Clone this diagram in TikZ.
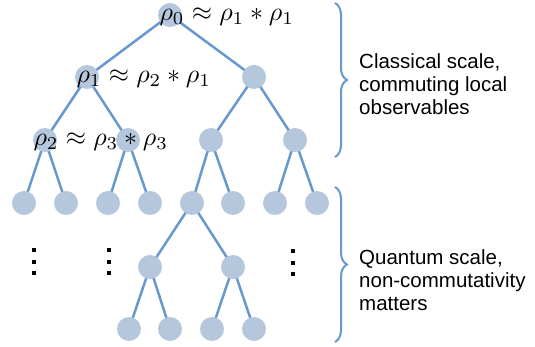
\documentclass[tikz,border=0pt]{standalone}
\usepackage{fontspec}
\setsansfont{Liberation Sans}
\usetikzlibrary{decorations.pathreplacing,backgrounds}
\definecolor{edgeblue}{RGB}{104,152,205}
\definecolor{nodeblue}{RGB}{180,199,221}
\tikzset{
  tn/.style={circle,fill=nodeblue,minimum size=24pt,inner sep=0pt},
  edge/.style={edgeblue,line width=2.5pt},
  formula/.style={anchor=base west,inner sep=0pt,scale=2.6},
  bracestyle/.style={edgeblue,line width=2pt,decorate,decoration={brace,amplitude=12pt}},
  lbl/.style={anchor=west,align=left,inner sep=0pt,font=\sffamily\fontsize{20.5}{23}\selectfont},
  dotsq/.style={fill=black,inner sep=0pt,minimum size=4pt,rectangle}
}
\begin{document}
\begin{tikzpicture}[x=1pt,y=-1pt]
\useasboundingbox (0,0) rectangle (535,347);
% nodes
\node[tn] (r) at (170,15) {};
\node[tn] (a) at (87,77) {};
\node[tn] (b) at (254,77) {};
\node[tn] (c) at (45,140) {};
\node[tn] (d) at (128,140) {};
\node[tn] (e) at (211,140) {};
\node[tn] (f) at (295,140) {};
\node[tn] (c1) at (24,203) {};
\node[tn] (c2) at (66,203) {};
\node[tn] (d1) at (108,203) {};
\node[tn] (d2) at (150,203) {};
\node[tn] (e1) at (192,203) {};
\node[tn] (e2) at (233,203) {};
\node[tn] (f1) at (275,203) {};
\node[tn] (f2) at (317,203) {};
\node[tn] (g1) at (150,267) {};
\node[tn] (g2) at (233,267) {};
\node[tn] (h1) at (129,329) {};
\node[tn] (h2) at (170,329) {};
\node[tn] (h3) at (212,329) {};
\node[tn] (h4) at (254,329) {};
% edges
\begin{scope}[on background layer]
\draw[edge] (r.center) -- (a.center); \draw[edge] (r.center) -- (b.center);
\draw[edge] (a.center) -- (c.center); \draw[edge] (a.center) -- (d.center);
\draw[edge] (b.center) -- (e.center); \draw[edge] (b.center) -- (f.center);
\draw[edge] (c.center) -- (c1.center); \draw[edge] (c.center) -- (c2.center);
\draw[edge] (d.center) -- (d1.center); \draw[edge] (d.center) -- (d2.center);
\draw[edge] (e.center) -- (e1.center); \draw[edge] (e.center) -- (e2.center);
\draw[edge] (f.center) -- (f1.center); \draw[edge] (f.center) -- (f2.center);
\draw[edge] (e1.center) -- (g1.center); \draw[edge] (e1.center) -- (g2.center);
\draw[edge] (g1.center) -- (h1.center); \draw[edge] (g1.center) -- (h2.center);
\draw[edge] (g2.center) -- (h3.center); \draw[edge] (g2.center) -- (h4.center);
\end{scope}
% formulas
\node[formula] (fr) at (159,20.5) {$\rho_0\approx\rho_1*\rho_1$};
\node[formula] (fa) at (76,82.5) {$\rho_1\approx\rho_2*\rho_1$};
\node[formula] (fc) at (33,145.5) {$\rho_2\approx\rho_3*\rho_3$};
% dots
\foreach \x/\n in {34/p,109/q} {
  \node[dotsq] (\n1) at (\x,250) {};
  \node[dotsq] (\n2) at (\x,262) {};
  \node[dotsq] (\n3) at (\x,273) {};
}
\node[dotsq] (s1) at (293,251) {};
\node[dotsq] (s2) at (293,263) {};
\node[dotsq] (s3) at (293,274) {};
% braces
\coordinate (b1t) at (335,3);
\coordinate (b1b) at (335,157);
\coordinate (b2t) at (335,187);
\coordinate (b2b) at (335,342);
\draw[bracestyle] (b1t) -- (b1b);
\draw[bracestyle] (b2t) -- (b2b);
% labels
\node[lbl] (l1) at (359,84) {Classical scale,\\commuting local\\observables};
\node[lbl] (l2) at (359,280) {Quantum scale,\\non-commutativity\\matters};
\end{tikzpicture}
\end{document}
